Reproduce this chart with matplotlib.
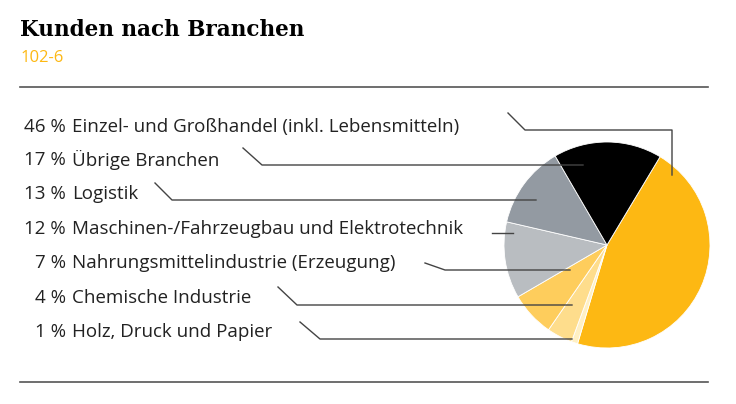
import matplotlib
matplotlib.use('Agg')
import matplotlib.pyplot as plt

W, H = 736, 404

shares = [46, 1, 4, 7, 12, 13, 17]
colors = ['#fdb813', '#fff0c4', '#fedd8c', '#fecd5c', '#b9bdc1', '#939aa2', '#000000']

pcts = ['46 %', '17 %', '13 %', '12 %', '7 %', '4 %', '1 %']
labels = ['Einzel- und Großhandel (inkl. Lebensmitteln)', 'Übrige Branchen', 'Logistik',
          'Maschinen-/Fahrzeugbau und Elektrotechnik', 'Nahrungsmittelindustrie (Erzeugung)',
          'Chemische Industrie', 'Holz, Druck und Papier']

plt.rcParams['font.family'] = 'Open Sans'
fig = plt.figure(figsize=(W / 100, H / 100), dpi=100)

# overlay in pixel coordinates
ov = fig.add_axes([0, 0, 1, 1])
ov.set_xlim(0, W)
ov.set_ylim(H, 0)
ov.axis('off')

ov.text(20, 30, 'Kunden nach Branchen', fontsize=15.5, fontweight='bold',
        family='DejaVu Serif', va='center')
ov.text(20, 58, '102-6', fontsize=12, color='#fdb813', va='center')
for y in (87, 382):
    ov.plot([20, 708], [y, y], color='#555555', lw=1.2)

rows = [127, 160, 194, 229, 263, 298, 332]
for y, p, lab in zip(rows, pcts, labels):
    ov.text(66, y, p, fontsize=13.5, ha='right', va='center', color='#222222')
    ov.text(72, y, lab, fontsize=13.5, ha='left', va='center', color='#222222')

leaders = [
    [(508, 113), (525, 130), (672, 130), (672, 175)],
    [(243, 148), (262, 165), (583, 165)],
    [(155, 183), (172, 200), (536, 200)],
    [(492, 233), (513, 233)],
    [(425, 263), (445, 270), (570, 270)],
    [(278, 287), (297, 305), (572, 305)],
    [(300, 322), (320, 339), (572, 339)],
]

# pie
pax = fig.add_axes([504 / W, (H - 348) / H, 206 / W, 206 / H])
pax.pie(shares, colors=colors, startangle=59, counterclock=False,
        wedgeprops=dict(linewidth=0.6, edgecolor='white'))
pax.set_xlim(-1, 1)
pax.set_ylim(-1, 1)
pax.set_aspect('equal')

ov2 = fig.add_axes([0, 0, 1, 1], zorder=5)
ov2.set_xlim(0, W)
ov2.set_ylim(H, 0)
ov2.axis('off')
ov2.patch.set_alpha(0)
for pts in leaders:
    xs, ys = zip(*pts)
    ov2.plot(xs, ys, color='#444444', lw=1.0)

fig.savefig('out.png', dpi=100)
